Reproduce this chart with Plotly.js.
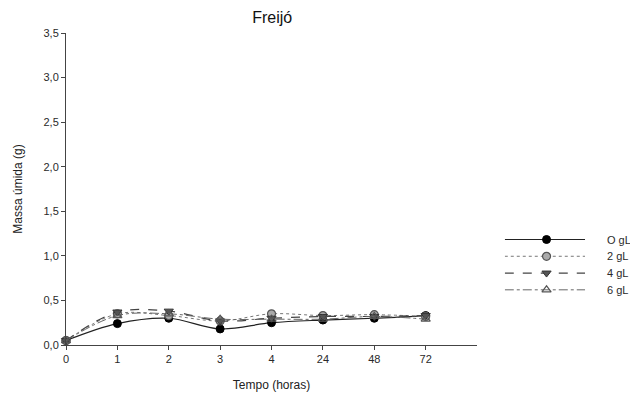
<!DOCTYPE html>
<html>
<head>
<meta charset="utf-8">
<script src="https://cdn.plot.ly/plotly-3.0.1.min.js"></script>
<style>html,body{margin:0;padding:0;background:#fff;}#chart{width:630px;height:397px;}</style>
</head>
<body>
<div id="chart"></div>
<script>
// Data
var categories = ["0", "1", "2", "3", "4", "24", "48", "72"];
var seriesNames = ["O gL", "2 gL", "4 gL", "6 gL"];
var s0gL = [0.05, 0.24, 0.30, 0.18, 0.25, 0.28, 0.30, 0.33];
var s2gL = [0.05, 0.35, 0.33, 0.27, 0.35, 0.33, 0.34, 0.32];
var s4gL = [0.05, 0.37, 0.38, 0.27, 0.30, 0.32, 0.32, 0.33];
var s6gL = [0.05, 0.33, 0.35, 0.29, 0.29, 0.29, 0.32, 0.29];
var yTickVals = [0, 0.5, 1.0, 1.5, 2.0, 2.5, 3.0, 3.5];
var yTickText = ["0,0", "0,5", "1,0", "1,5", "2,0", "2,5", "3,0", "3,5"];

var seriesValues = [s0gL, s2gL, s4gL, s6gL];
var styles = [
  {line: {color: "#222", width: 1.2, dash: "solid"}, marker: {symbol: "circle", size: 8, color: "#000", line: {color: "#000", width: 1}}},
  {line: {color: "#777", width: 1, dash: "dot"}, marker: {symbol: "circle", size: 8, color: "#aaa", line: {color: "#555", width: 1.2}}},
  {line: {color: "#444", width: 1.2, dash: "dash"}, marker: {symbol: "triangle-down", size: 8, color: "#555", line: {color: "#333", width: 1}}},
  {line: {color: "#666", width: 1, dash: "dashdot"}, marker: {symbol: "triangle-up-open", size: 8, color: "#555", line: {color: "#555", width: 1.2}}}
];

var xIdx = categories.map(function (c, i) { return i; });
var traces = [];
seriesValues.forEach(function (vals, k) {
  traces.push({
    x: xIdx, y: vals, type: "scatter", mode: "lines+markers",
    name: seriesNames[k], showlegend: false, cliponaxis: false,
    line: Object.assign({shape: "spline", smoothing: 1}, styles[k].line),
    marker: styles[k].marker,
    xaxis: "x", yaxis: "y"
  });
});
// legend drawn via a second small axis pair
var annotations = [];
seriesNames.forEach(function (nm, k) {
  traces.push({
    x: [0, 1], y: [k, k], type: "scatter", mode: "lines", showlegend: false,
    line: styles[k].line, xaxis: "x2", yaxis: "y2", hoverinfo: "skip"
  });
  traces.push({
    x: [0.52], y: [k], type: "scatter", mode: "markers", showlegend: false,
    marker: styles[k].marker, xaxis: "x2", yaxis: "y2", hoverinfo: "skip"
  });
  annotations.push({
    xref: "x2", yref: "y2", x: 1, y: k, xanchor: "left", yanchor: "middle",
    xshift: 20, text: nm, showarrow: false,
    font: {family: "Liberation Sans, Arial, sans-serif", size: 11, color: "#2a2a2a"}
  });
});

var tickFont = {family: "Liberation Sans, Arial, sans-serif", size: 11, color: "#2a2a2a"};
var layout = {
  width: 630, height: 397,
  margin: {l: 66, r: 10, t: 33, b: 52},
  paper_bgcolor: "#fff", plot_bgcolor: "#fff",
  showlegend: false,
  title: {text: "Freijó", x: 0.432, xanchor: "center", y: 0.955, yanchor: "middle",
    font: {family: "Liberation Sans, Arial, sans-serif", size: 16, color: "#111"}},
  xaxis: {
    domain: [0, 0.742], range: [0, 8], tickmode: "array",
    tickvals: xIdx, ticktext: categories,
    showgrid: false, zeroline: false, showline: true, linecolor: "#444", linewidth: 1,
    ticks: "outside", ticklen: 4, tickcolor: "#444", tickfont: tickFont,
    title: {text: "Tempo (horas)", standoff: 16,
      font: {family: "Liberation Sans, Arial, sans-serif", size: 12, color: "#222"}}
  },
  yaxis: {
    range: [0, 3.5], tickmode: "array", tickvals: yTickVals, ticktext: yTickText,
    showgrid: false, zeroline: false, showline: true, linecolor: "#444", linewidth: 1,
    ticks: "outside", ticklen: 4, tickcolor: "#444", tickfont: tickFont,
    title: {text: "Massa úmida (g)", standoff: 18,
      font: {family: "Liberation Sans, Arial, sans-serif", size: 12, color: "#222"}}
  },
  xaxis2: {domain: [0.792, 0.937], range: [0, 1], anchor: "y2",
    showgrid: false, zeroline: false, showline: false, showticklabels: false, ticks: ""},
  yaxis2: {domain: [0.15, 0.365], range: [3.5, -0.5], anchor: "x2",
    showgrid: false, zeroline: false, showline: false, showticklabels: false, ticks: ""},
  annotations: annotations
};

Plotly.newPlot("chart", traces, layout, {displayModeBar: false, staticPlot: true});
</script>
</body>
</html>
